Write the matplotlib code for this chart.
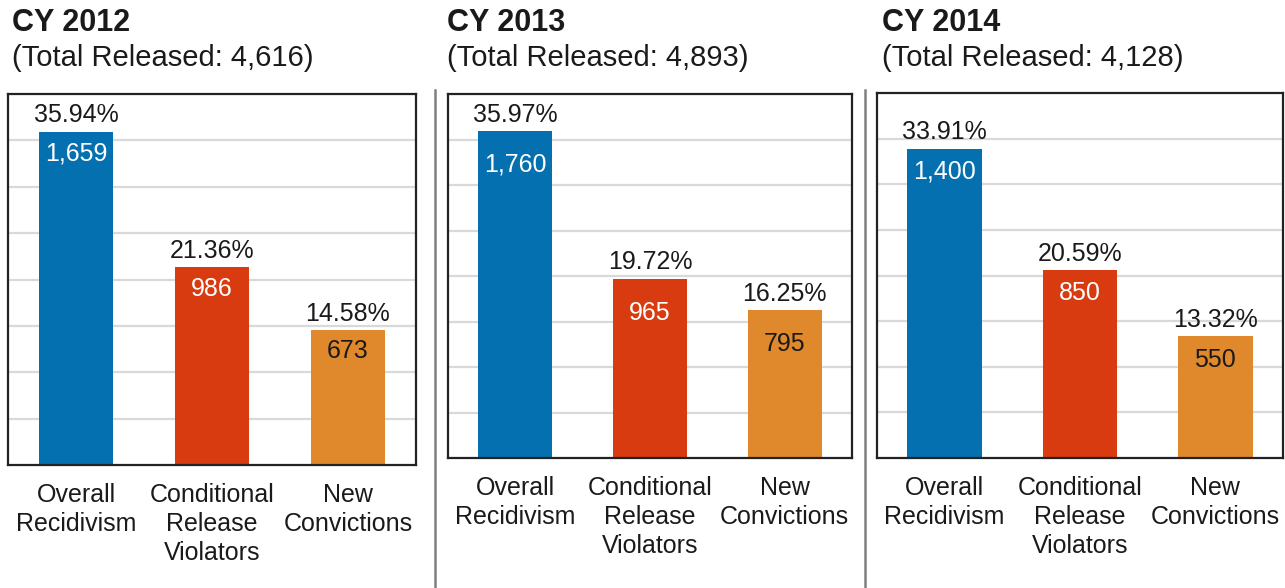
import matplotlib.pyplot as plt
from matplotlib.lines import Line2D

plt.rcParams['font.family'] = ['Liberation Sans', 'DejaVu Sans']

years = ['CY 2012', 'CY 2013', 'CY 2014']
total_released = ['4,616', '4,893', '4,128']
categories = ['Overall\nRecidivism', 'Conditional\nRelease\nViolators', 'New\nConvictions']
counts = [[1659, 986, 673], [1760, 965, 795], [1400, 850, 550]]
percents = [[35.94, 21.36, 14.58], [35.97, 19.72, 16.25], [33.91, 20.59, 13.32]]

bar_colors = ['#0570b0', '#d83b10', '#e0892c']
count_colors = ['white', 'white', '#1a1a1a']
text_color = '#1a1a1a'

W, H = 1285, 588
fig = plt.figure(figsize=(W / 100, H / 100), dpi=100)

# axes boxes in pixels: left, right, top, bottom
boxes = [(8, 416, 94, 465), (448, 852, 94, 458), (877, 1283, 93, 458)]
title_x = [12, 447, 882]
inner_gap = [-7, -16, -8]

for i in range(3):
    l, r, t, b = boxes[i]
    ax = fig.add_axes([l / W, (H - b) / H, (r - l) / W, (b - t) / H])
    x = range(len(categories))
    bars = ax.bar(x, percents[i], width=0.55, color=bar_colors, zorder=2)
    ax.set_xlim(-0.5, 2.5)
    ax.set_ylim(0, 40)
    ax.set_yticks(range(5, 40, 5))
    ax.yaxis.grid(True, color='#d9d9d9', linewidth=1.6, zorder=0)
    ax.set_axisbelow(True)
    ax.tick_params(axis='y', left=False, labelleft=False)
    ax.set_xticks(list(x))
    ax.set_xticklabels(categories, fontsize=18, color=text_color, linespacing=1.27)
    ax.tick_params(axis='x', length=0, pad=13)
    for s in ax.spines.values():
        s.set_color('#222222')
        s.set_linewidth(1.6)

    for j, bar in enumerate(bars):
        cx = bar.get_x() + bar.get_width() / 2
        top = bar.get_height()
        ax.annotate(f'{percents[i][j]:.2f}%', (cx, top), xytext=(0, 3),
                    textcoords='offset points', ha='center', va='bottom',
                    fontsize=18, color=text_color)
        ax.annotate(f'{counts[i][j]:,}', (cx, top), xytext=(0, inner_gap[i]),
                    textcoords='offset points', ha='center', va='top',
                    fontsize=18, color=count_colors[j])

    fig.text(title_x[i] / W, 1 - 23 / H, years[i], fontsize=22, fontweight='bold',
             color=text_color, va='center', ha='left')
    fig.text(title_x[i] / W, 1 - 58 / H, f'(Total Released: {total_released[i]})',
             fontsize=21, color=text_color, va='center', ha='left')

# vertical separators between the three years
for sx in [435, 865]:
    fig.add_artist(Line2D([sx / W, sx / W], [0, (H - 90) / H], color='#808080',
                          linewidth=1.8))

fig.savefig('out.png', dpi=100)
